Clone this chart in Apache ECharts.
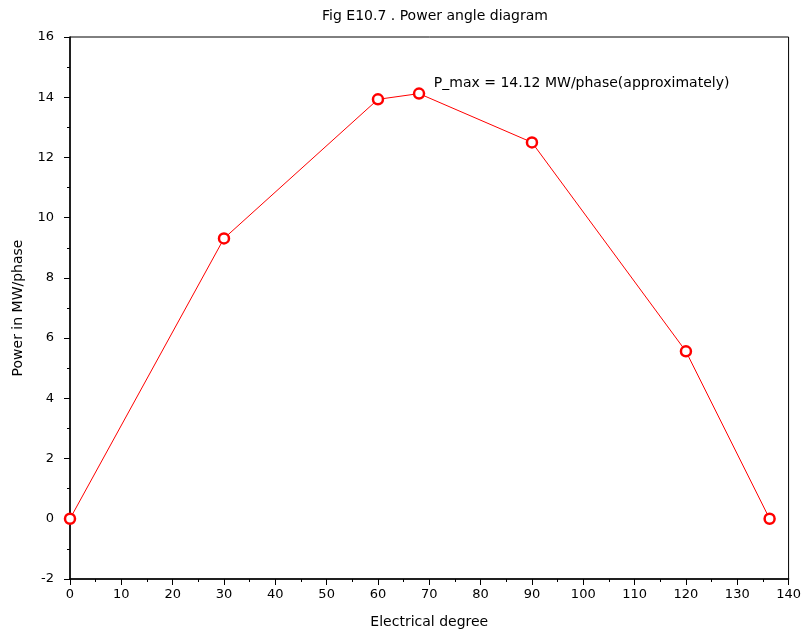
<!DOCTYPE html>
<html>
<head>
<meta charset="utf-8">
<script src="https://cdn.jsdelivr.net/npm/echarts@6/dist/echarts.min.js"></script>
<style>
  html, body { margin: 0; padding: 0; background: #fff; }
  #main { width: 804px; height: 634px; }
</style>
</head>
<body>
<div id="main"></div>
<script>
// electrical angle (deg) and power (MW/phase)
var angles = [0, 30, 60, 68, 90, 120, 136.3];
var power = [0, 9.31, 13.93, 14.12, 12.5, 5.56, 0];
var pmaxText = 'P_max = 14.12 MW/phase(approximately)';
var pmaxAt = [70.5, 14.45];

var font = 'DejaVu Sans';
var chart = echarts.init(document.getElementById('main'));

var points = [];
for (var i = 0; i < angles.length; i++) {
	points.push([angles[i], power[i]]);
}

var option = {
	animation: false,
	backgroundColor: '#fff',
	title: {
		text: 'Fig E10.7 . Power angle diagram',
		left: 430,
		textAlign: 'center',
		top: 4,
		textStyle: { fontFamily: font, fontSize: 14, fontWeight: 'normal', color: '#000' }
	},
	grid: {
		left: 70, right: 14, top: 37, bottom: 53,
		show: true, borderColor: '#000', borderWidth: 1
	},
	xAxis: {
		type: 'value',
		min: 0, max: 140, interval: 10,
		name: 'Electrical degree',
		nameLocation: 'middle',
		nameGap: 36,
		nameTextStyle: { fontFamily: font, fontSize: 14, color: '#000' },
		axisLine: { onZero: false, lineStyle: { color: '#000', width: 1.5 } },
		axisTick: { length: 6, lineStyle: { color: '#000' } },
		minorTick: { show: true, splitNumber: 2, length: 3, lineStyle: { color: '#000' } },
		axisLabel: { fontFamily: font, fontSize: 13, color: '#000', margin: 9 },
		splitLine: { show: false }
	},
	yAxis: {
		type: 'value',
		min: -2, max: 16, interval: 2,
		name: 'Power in MW/phase',
		nameLocation: 'middle',
		nameGap: 45,
		nameTextStyle: { fontFamily: font, fontSize: 14, color: '#000' },
		axisLine: { show: true, lineStyle: { color: '#000', width: 1.5 } },
		axisTick: { show: true, length: 6, lineStyle: { color: '#000' } },
		minorTick: { show: true, splitNumber: 2, length: 3, lineStyle: { color: '#000' } },
		axisLabel: { fontFamily: font, fontSize: 13, color: '#000', margin: 16 },
		splitLine: { show: false }
	},
	series: [{
		type: 'line',
		data: points,
		symbol: 'circle',
		symbolSize: 10,
		itemStyle: { color: '#fff', borderColor: '#ff0000', borderWidth: 2.5 },
		lineStyle: { color: '#ff0000', width: 1 },
		markPoint: {
			symbol: 'circle',
			symbolSize: 0,
			data: [{ coord: pmaxAt }],
			label: {
				show: true,
				position: 'right',
				distance: 2,
				formatter: pmaxText,
				fontFamily: font,
				fontSize: 14,
				color: '#000'
			}
		}
	}]
};
chart.setOption(option);
</script>
</body>
</html>
